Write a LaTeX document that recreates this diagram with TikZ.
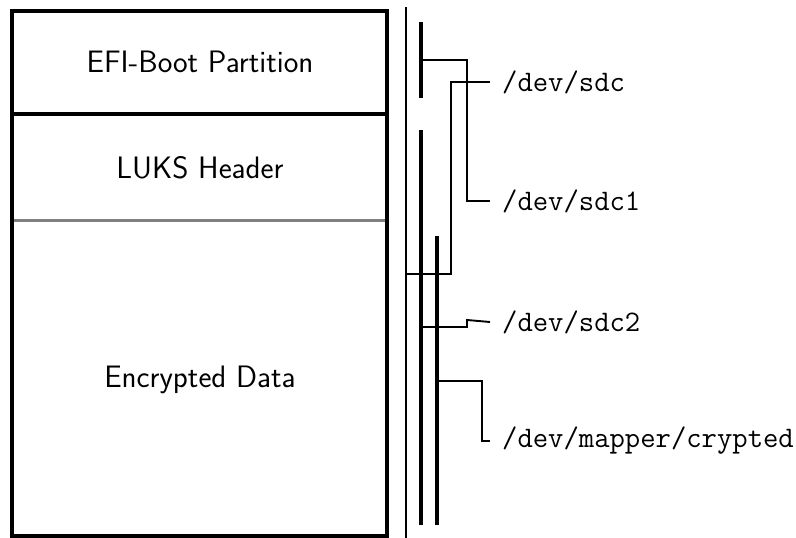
\documentclass[tikz,border=0pt]{standalone}
\usepackage{fontspec}
\begin{document}
\begin{tikzpicture}[x=1pt,y=-1pt,
  part/.style={font=\sffamily\fontsize{31}{36}\selectfont},
  dev/.style={font=\ttfamily\fontsize{29.8}{34}\selectfont, anchor=west, inner sep=0pt},
  frame/.style={line width=3.6pt},
  bar/.style={line width=3.2pt},
  outerbar/.style={line width=2.6pt},
  link/.style={line width=1.9pt}]
\useasboundingbox (0,0) rectangle (796,538);

% disk layout
\draw[frame] (12,11) rectangle (387,536);
\draw[frame] (12,114) -- (387,114);
\draw[line width=3pt, gray] (14,220) -- (385,220);
\node[part] (efi)  at (200,62)  {EFI-Boot Partition};
\node[part] (luks) at (200,168) {LUKS Header};
\node[part] (data) at (200,380) {Encrypted Data};

% extents of the block devices
\coordinate (disktop) at (406,7);
\coordinate (diskbot) at (406,538);
\coordinate (p1top) at (421,22);
\coordinate (p1bot) at (421,98);
\coordinate (p2top) at (421,130);
\coordinate (p2bot) at (421,525);
\coordinate (mtop) at (437,236);
\coordinate (mbot) at (437,525);
\draw[outerbar] (disktop) -- (diskbot);
\draw[bar] (p1top) -- (p1bot);
\draw[bar] (p2top) -- (p2bot);
\draw[bar] (mtop) -- (mbot);

% device names
\node[dev] (sdc)    at (502,82)  {/dev/sdc};
\node[dev] (sdc1)   at (502,201) {/dev/sdc1};
\node[dev] (sdc2)   at (502,322) {/dev/sdc2};
\node[dev] (mapper) at (502,441) {/dev/mapper/crypted};

% connectors
\coordinate (tdisk) at (406,274);
\coordinate (tp1) at (421,60);
\coordinate (tp2) at (421,327);
\coordinate (tm) at (437,381);
\draw[link] (tdisk) -| (451,82) -- ([xshift=-12pt]sdc.west);
\draw[link] (tp1) -| (467,201) -- ([xshift=-12pt]sdc1.west);
\draw[link] (tp2) -| (467,320) -- ([xshift=-12pt]sdc2.west);
\draw[link] (tm) -| (482,441) -- ([xshift=-12pt]mapper.west);
\end{tikzpicture}
\end{document}
